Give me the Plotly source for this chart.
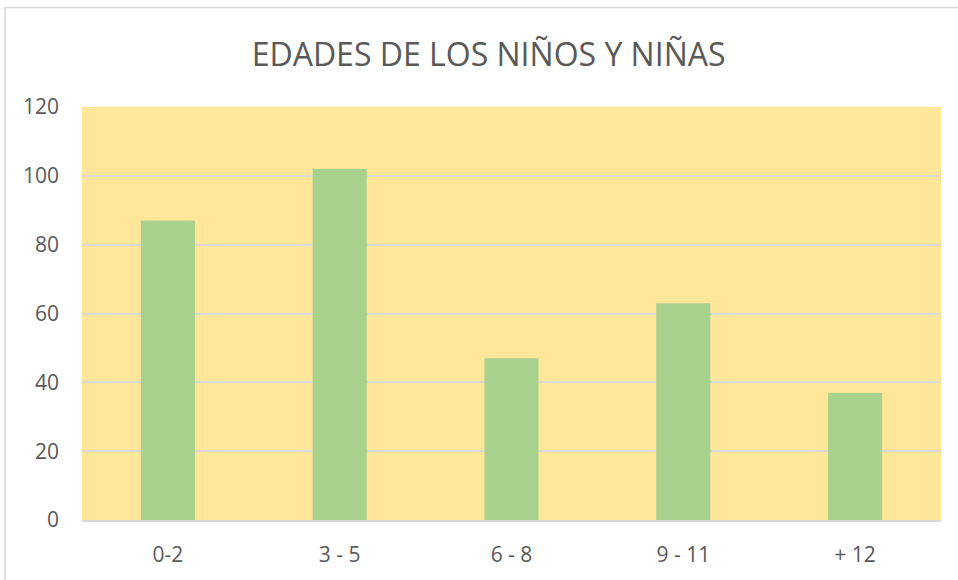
import plotly.graph_objects as go

# Datos del gráfico
edades = ["0-2", "3 - 5", "6 - 8", "9 - 11", "+ 12"]
ninos = [87, 102, 47, 63, 37]
y_ticks = [0, 20, 40, 60, 80, 100, 120]

texto = "#595959"
fuente = "Open Sans"

fig = go.Figure()
fig.add_trace(go.Bar(x=edades, y=ninos, marker=dict(color="#A9D18E", line=dict(width=0))))

fig.update_layout(
    width=958, height=580,
    margin=dict(l=82, r=17, t=107, b=55),
    paper_bgcolor="white",
    plot_bgcolor="#FFE699",
    bargap=0.685,
    showlegend=False,
    title=dict(text="EDADES DE LOS NIÑOS Y NIÑAS", x=0.51, xanchor="center",
               y=0.905, yanchor="middle",
               font=dict(family=fuente, size=32, color=texto)),
    font=dict(family=fuente, size=21, color=texto),
)
fig.update_yaxes(range=[0, 120], tickvals=y_ticks, showgrid=True, gridcolor="#D9D9D9",
                 gridwidth=2, zeroline=False, showline=False, ticks="",
                 ticklabelstandoff=22, tickfont=dict(size=21, color=texto))
fig.update_xaxes(showline=True, linecolor="#D9D9D9", linewidth=2, ticks="",
                 ticklabelstandoff=15, tickfont=dict(size=21, color=texto))

# Marco del gráfico
fig.add_shape(type="rect", xref="paper", yref="paper",
              x0=-0.0896, x1=1.2, y0=-0.3, y1=1.241,
              line=dict(color="#D9D9D9", width=1.5), layer="below")

fig.write_html("out.html", config={"displayModeBar": False},
               post_script="document.body.style.margin='0';")
